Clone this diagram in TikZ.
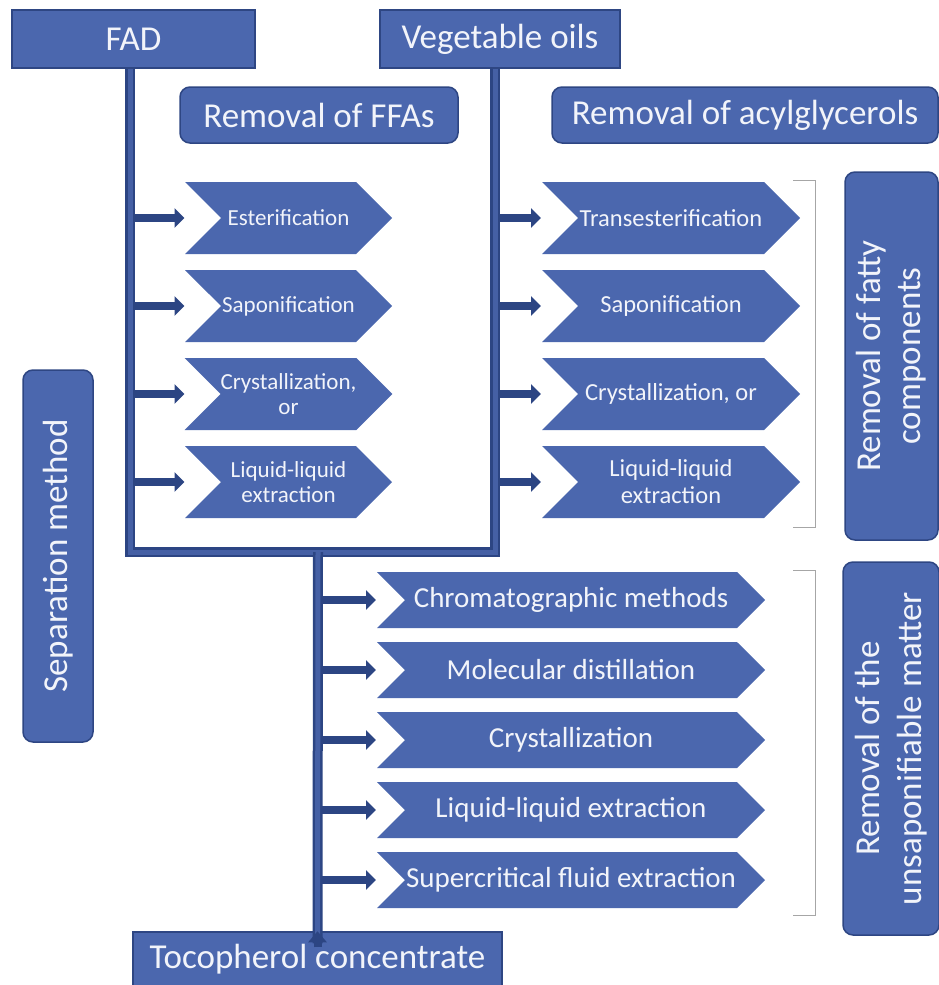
\documentclass[tikz,border=0pt]{standalone}
\usepackage{fontspec}
\setmainfont{Carlito}
\usetikzlibrary{shapes.symbols,arrows.meta}
\definecolor{boxfill}{HTML}{4B67AE}
\definecolor{boxline}{HTML}{2E4683}
\definecolor{spinecol}{HTML}{2C4583}
\definecolor{spinein}{HTML}{4560A5}
\definecolor{txt}{HTML}{F2F4FA}
\begin{document}
\begin{tikzpicture}[x=1pt,y=-1pt,
  sq/.style={draw=boxline, line width=1.5pt, fill=boxfill, text=txt, inner sep=0pt, align=center},
  rbox/.style={sq, rounded corners=10pt},
  chev/.style={signal, signal to=east, signal from=west, draw=none, fill=boxfill, text=txt, inner sep=0pt, align=center},
  lchev/.style={chev, minimum width=207pt, minimum height=72pt, font=\fontsize{23}{25}\selectfont},
  rchev/.style={chev, minimum width=258pt, minimum height=72pt, font=\fontsize{24.5}{27}\selectfont},
  bchev/.style={chev, minimum width=388pt, minimum height=56pt, font=\fontsize{29}{32}\selectfont},
  head/.style={font=\fontsize{35}{40}\selectfont},
  spine/.style={draw=spinecol, line width=2.5pt, double=spinein, double distance=5pt, line join=miter},
  arr/.style={draw=spinecol, line width=7.5pt, -{Triangle[length=10pt,width=19pt]}},
  brk/.style={draw=gray!70, line width=0.9pt}]
\useasboundingbox (0,0) rectangle (939,985);

% top boxes
\node[sq, head, minimum width=243pt, minimum height=58pt] (fad) at (133.5,39) {FAD};
\node[sq, head, minimum width=240pt, minimum height=58pt] (vo) at (500,39) {Vegetable oils};
\node[rbox, head, minimum width=278pt, minimum height=56pt] (rffa) at (319,115) {Removal of FFAs};
\node[rbox, head, minimum width=386pt, minimum height=56pt] (racyl) at (745,115) {Removal of acylglycerols};

% side labels
\node[rbox, head, rotate=90, minimum width=368pt, minimum height=93pt] (rfat) at (891.5,356) {Removal of fatty\\components};
\node[rbox, rotate=90, minimum width=373pt, minimum height=96pt, font=\fontsize{35}{42}\selectfont] (runs) at (891,748.5) {Removal of the\\unsaponifiable matter};
\node[rbox, head, rotate=90, minimum width=372pt, minimum height=70pt] (sep) at (58,556) {Separation method};

% result
\node[sq, head, minimum width=369pt, minimum height=55pt] (toc) at (317.5,959.5) {Tocopherol concentrate};

% left chevrons
\node[lchev] (e1) at (288.5,218) {Esterification};
\node[lchev] (e2) at (288.5,306) {Saponification};
\node[lchev] (e3) at (288.5,394) {Crystallization,\\or};
\node[lchev] (e4) at (288.5,482) {Liquid-liquid\\extraction};

% right chevrons
\node[rchev] (t1) at (671,218) {Transesterification};
\node[rchev] (t2) at (671,306) {Saponification};
\node[rchev] (t3) at (671,394) {Crystallization, or};
\node[rchev] (t4) at (671,482) {Liquid-liquid\\extraction};

% bottom chevrons
\node[bchev] (b1) at (571,600) {Chromatographic methods};
\node[bchev] (b2) at (571,670) {Molecular distillation};
\node[bchev] (b3) at (571,740) {Crystallization};
\node[bchev] (b4) at (571,810) {Liquid-liquid extraction};
\node[bchev] (b5) at (571,880) {Supercritical fluid extraction};

% spine points
\coordinate (c1) at (130,552);
\coordinate (c2) at (495,552);
\coordinate (c3) at (318,552);

% arrows
\foreach \n in {e1,e2,e3,e4} \draw[arr] (\n -| c1) -- ([xshift=-104pt]\n.center);
\foreach \n in {t1,t2,t3,t4} \draw[arr] (\n -| c2) -- ([xshift=-130pt]\n.center);
\foreach \n in {b1,b2,b3,b4,b5} \draw[arr] (\n -| c3) -- ([xshift=-195pt]\n.center);

% spines
\draw[spine] (fad.south -| c1) -- (c1) -- (c2) -- (vo.south -| c2);
\draw[spine] (c3) -- ([yshift=-12pt]toc.north);
\draw[draw=spinecol, line width=8pt, -{Triangle[length=11pt,width=18pt]}] ([yshift=-16pt]toc.north) -- (toc.north);

% brackets
\coordinate (k1) at (793,180); \coordinate (k2) at (815,180);
\coordinate (k3) at (815,527); \coordinate (k4) at (793,527);
\draw[brk] (k1) -- (k2) -- (k3) -- (k4);
\coordinate (m1) at (793,570); \coordinate (m2) at (815,570);
\coordinate (m3) at (815,915); \coordinate (m4) at (793,915);
\draw[brk] (m1) -- (m2) -- (m3) -- (m4);
\end{tikzpicture}
\end{document}
